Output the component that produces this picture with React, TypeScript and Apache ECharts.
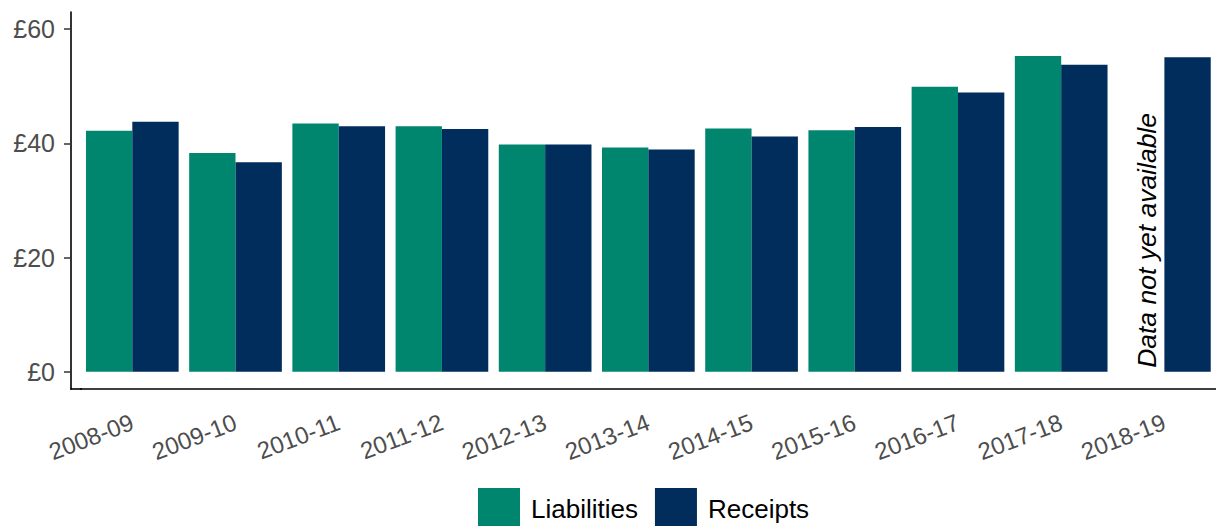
import React, { useEffect, useRef } from "react";
import * as echarts from "echarts";

const categories = [
  "2008-09", "2009-10", "2010-11", "2011-12", "2012-13", "2013-14",
  "2014-15", "2015-16", "2016-17", "2017-18", "2018-19",
];
const liabilities: (number | null)[] = [42.2, 38.3, 43.5, 43.0, 39.8, 39.3, 42.6, 42.3, 49.9, 55.3, null];
const receipts: number[] = [43.8, 36.7, 43.0, 42.5, 39.8, 38.95, 41.2, 42.85, 48.9, 53.75, 55.1];
const yTicks = [0, 20, 40, 60];
const seriesNames = ["Liabilities", "Receipts"];
const missingNote = "Data not yet available";

const GREEN = "#00856F";
const NAVY = "#002D5C";
const FONT = "'Liberation Sans', Arial, sans-serif";

export default function App() {
  const ref = useRef<HTMLDivElement>(null);
  useEffect(() => {
    if (!ref.current) return;
    const chart = echarts.init(ref.current, null, { renderer: "svg" });
    const liabData = liabilities.map((v) =>
      v === null
        ? {
            value: 0,
            itemStyle: { color: "rgba(0,0,0,0)" },
            label: {
              show: true,
              formatter: missingNote,
              position: "top",
              distance: 4,
              rotate: 90,
              align: "left",
              verticalAlign: "middle",
              offset: [0, 6],
              fontSize: 26.5,
              fontStyle: "italic",
              color: "#000",
              opacity: 1,
              fontFamily: FONT,
            },
          }
        : v
    );
    chart.setOption({
      animation: false,
      textStyle: { fontFamily: FONT },
      grid: { left: 80.7, top: 12, width: 1139, height: 377, containLabel: false },
      legend: {
        data: seriesNames,
        left: 478,
        top: 488,
        padding: 0,
        itemWidth: 42,
        itemHeight: 42,
        itemGap: 17,
        icon: "rect",
        textStyle: { fontSize: 26, color: "#000", fontFamily: FONT, padding: [0, 0, 0, 6] },
      },
      xAxis: {
        type: "category",
        data: categories,
        axisLine: { show: true, onZero: false, lineStyle: { color: "#000", width: 1.6 } },
        axisTick: { show: false },
        axisLabel: {
          rotate: 21,
          fontSize: 24,
          color: "#4D4D4D",
          margin: 32,
          interval: 0,
          fontFamily: FONT,
        },
      },
      yAxis: {
        type: "value",
        min: -3,
        max: 63,
        offset: 9.7,
        splitLine: { show: false },
        axisLine: { show: true, lineStyle: { color: "#000", width: 1.6 } },
        axisTick: { show: true, length: 7, customValues: yTicks, lineStyle: { color: "#333", width: 1.5 } },
        axisLabel: {
          customValues: yTicks,
          fontSize: 25,
          color: "#4D4D4D",
          margin: 16,
          fontFamily: FONT,
          formatter: (v: number) => "£" + v,
        },
      },
      graphic: [
        {
          type: "line",
          shape: { x1: 70.2, y1: 389, x2: 82, y2: 389 },
          style: { stroke: "#000", lineWidth: 1.6 },
        },
      ],
      series: [
        {
          name: seriesNames[0],
          type: "bar",
          data: liabData,
          barWidth: "44.9%",
          barGap: "0%",
          itemStyle: { color: GREEN },
        },
        {
          name: seriesNames[1],
          type: "bar",
          data: receipts,
          barWidth: "44.9%",
          barGap: "0%",
          itemStyle: { color: NAVY },
        },
      ],
    });
    return () => chart.dispose();
  }, []);
  return (
    <div
      ref={ref}
      style={{ position: "fixed", left: 0, top: 0, width: 1216, height: 526, background: "#fff" }}
    />
  );
}
